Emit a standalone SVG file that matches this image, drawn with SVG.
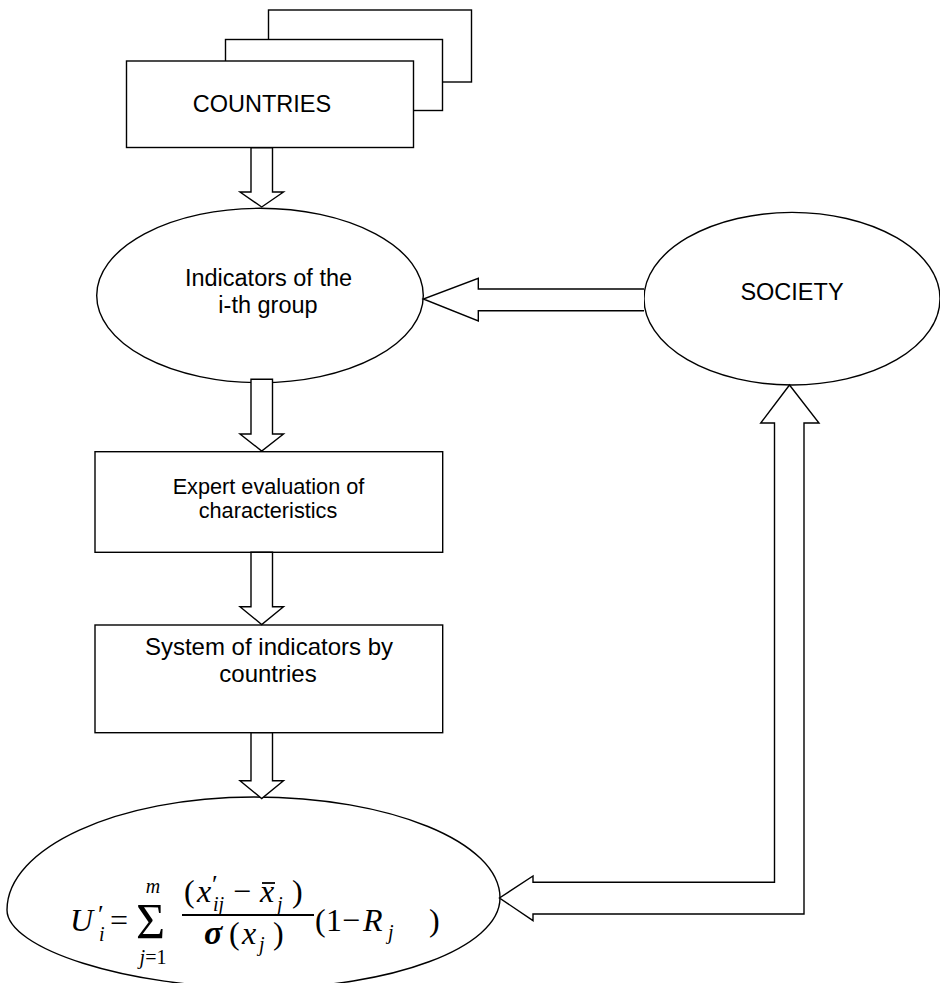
<svg xmlns="http://www.w3.org/2000/svg" width="940" height="983" viewBox="0 0 940 983">
<style>
.shape{fill:#fff;stroke:#000;stroke-width:1.4}
.arrow{fill:#fff;stroke:#000;stroke-width:1.4;stroke-linejoin:miter}
.lbl{font-family:"Liberation Sans",Arial,sans-serif;fill:#000;text-anchor:middle}
.m{font-family:"Liberation Serif","Times New Roman",serif;fill:#000;font-size:32px}
.mi{font-family:"Liberation Serif","Times New Roman",serif;fill:#000;font-size:32px;font-style:italic}
.ms{font-family:"Liberation Serif","Times New Roman",serif;fill:#000;font-size:20px;font-style:italic}
.msn{font-family:"Liberation Serif","Times New Roman",serif;fill:#000;font-size:20px}
</style>
<rect width="940" height="983" fill="#fff"/>

<g id="countries">
<rect class="shape" x="268.5" y="10" width="203" height="72"/>
<rect class="shape" x="225.5" y="39.5" width="217" height="71"/>
<rect class="shape" x="126.5" y="61" width="287" height="86.5"/>
<text class="lbl" x="262" y="111.5" style="font-size:23.5px">COUNTRIES</text>
</g>

<g id="indicators">
<ellipse class="shape" cx="260" cy="295.5" rx="163.3" ry="87.2"/>
<text class="lbl" x="268.5" y="286" style="font-size:23.5px">Indicators of the</text>
<text class="lbl" x="268" y="313" style="font-size:23.5px">i-th group</text>
</g>

<g id="society">
<ellipse class="shape" cx="792" cy="298.7" rx="148" ry="86.3"/>
<text class="lbl" x="792" y="300" style="font-size:23.5px">SOCIETY</text>
</g>

<g id="expert">
<rect class="shape" x="95" y="451.7" width="347.7" height="100.6"/>
<text class="lbl" x="268.5" y="494.3" style="font-size:21.7px">Expert evaluation of</text>
<text class="lbl" x="268" y="518.3" style="font-size:21.7px">characteristics</text>
</g>

<g id="system">
<rect class="shape" x="95" y="625" width="347.7" height="107.7"/>
<text class="lbl" x="269" y="655" style="font-size:24px">System of indicators by</text>
<text class="lbl" x="268" y="682.3" style="font-size:24px">countries</text>
</g>

<g id="formula">
<path class="shape" d="M7,910 C7,847.6 117.6,797 254,797 C389.9,797 500,842 500,898 C500,948 390,988 262,988 C125,988 7,948 7,910 Z"/>
<text class="mi" x="70" y="931">U</text>
<text class="m" x="98" y="923" style="font-size:26px">′</text>
<text class="ms" x="99" y="941">i</text>
<text class="m" x="110" y="931">=</text>
<text class="m" x="136" y="938" style="font-size:50px">Σ</text>
<text class="ms" x="153" y="893" text-anchor="middle">m</text>
<text x="153" y="964" text-anchor="middle"><tspan class="ms">j</tspan><tspan class="msn">=1</tspan></text>
<text class="m" x="184" y="902">(</text>
<text class="mi" x="197" y="902">x</text>
<text class="m" x="212" y="893" style="font-size:26px">′</text>
<text class="ms" x="213" y="911">ij</text>
<text class="m" x="233" y="902">−</text>
<text class="mi" x="260" y="902">x</text>
<line x1="262" y1="883" x2="275" y2="883" stroke="#000" stroke-width="1.8"/>
<text class="ms" x="277" y="911">j</text>
<text class="m" x="292" y="902">)</text>
<line x1="182" y1="915" x2="314" y2="915" stroke="#000" stroke-width="1.8"/>
<text class="mi" x="204" y="944" style="font-size:34px;font-weight:bold">σ</text>
<text class="m" x="229" y="944">(</text>
<text class="mi" x="242" y="944">x</text>
<text class="ms" x="259" y="951">j</text>
<text class="m" x="273" y="944">)</text>
<text class="m" x="315" y="931">(</text>
<text class="m" x="326" y="931">1</text>
<text class="m" x="342" y="931">−</text>
<text class="mi" x="363" y="931">R</text>
<text class="ms" x="388" y="939">j</text>
<text class="m" x="429" y="931">)</text>
</g>

<g id="connectors">
<path class="arrow" d="M251,147.7 L272.5,147.7 L272.5,192 L283.5,192 L261.7,207 L240,192 L251,192 Z"/>
<path class="arrow" d="M251,379.3 L272.5,379.3 L272.5,434 L283.5,434 L261.7,451 L240,434 L251,434 Z"/>
<path class="arrow" d="M251,552.3 L272.5,552.3 L272.5,606.7 L283.5,606.7 L261.7,624.5 L240,606.7 L251,606.7 Z"/>
<path class="arrow" d="M251,732.7 L272.5,732.7 L272.5,780.7 L283.5,780.7 L261.7,798.5 L240,780.7 L251,780.7 Z"/>
<path class="arrow" d="M644,289 L478.3,289 L478.3,278.3 L423.3,299 L478.3,321 L478.3,310.7 L644,310.7"/>
<path class="arrow" d="M789.5,385 L819,423 L804,423 L804,914 L533,914 L533,920.7 L499.5,898 L533,876 L533,882.3 L774.5,882.3 L774.5,423 L760.7,423 Z"/>
</g>
</svg>
